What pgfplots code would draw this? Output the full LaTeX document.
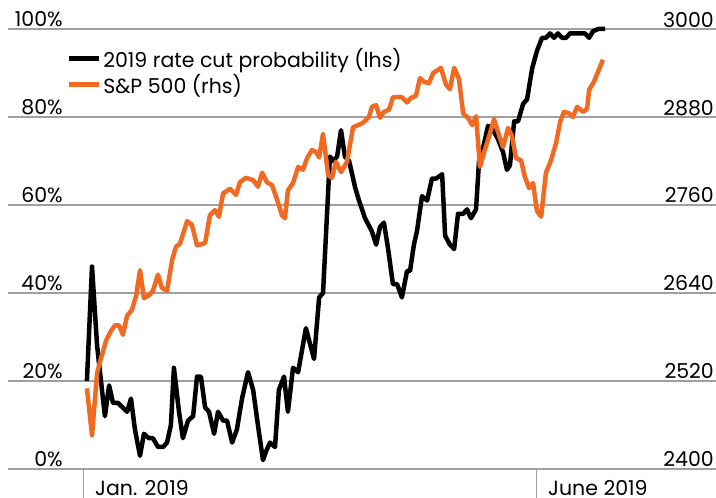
\documentclass[border=0pt]{standalone}
\usepackage{pgfplots}
\pgfplotsset{compat=1.18}
\usepackage{fontspec}
\setmainfont{Poppins}
\definecolor{spor}{HTML}{F26A21}
\definecolor{gridg}{HTML}{A0A0A0}

\begin{document}
\begin{tikzpicture}
\path[use as bounding box] (-8pt,-29pt) rectangle (708pt,469pt);
\begin{axis}[
  at={(0pt,0pt)}, anchor=south west,
  scale only axis, width=708pt, height=440pt,
  xmin=-25, xmax=211, ymin=0, ymax=100,
  axis line style={draw=none},
  ymajorgrids, grid style={gridg, line width=1.2pt},
  ytick={0,20,40,60,80,100}, yticklabels={0\%,20\%,40\%,60\%,80\%,100\%},
  ytick style={draw=none},
  yticklabel style={anchor=base east, inner sep=0pt, xshift=84pt, yshift=2pt, font=\fontsize{20.5}{22}\selectfont},
  xtick={0,151}, xticklabels={Jan. 2019, June 2019},
  xtick pos=bottom, tick align=outside, major tick length=29pt,
  xtick style={gridg, line width=1pt},
  xticklabel style={anchor=north west, inner sep=0pt, xshift=12pt, yshift=18pt, font=\fontsize{20.5}{22}\selectfont},
  clip=false,
  legend style={at={(0.082,0.961)}, anchor=north west, draw=none, fill=none, inner sep=0pt,
    font=\fontsize{20.5}{22}\selectfont, row sep=1pt, nodes={inner sep=2pt}},
  legend cell align=left,
  legend image code/.code={\draw[#1, line width=5pt] (0pt,0pt) -- (30pt,0pt);},
]
\addplot[black, line width=4.5pt, line join=round] coordinates {
(1.3,20) (3,46) (4.7,28) (7.3,12) (8.7,19) (10,15) (11.7,15) (14.7,13) (16,16) (17.3,9)
(19,3) (20.3,8) (22,7) (23.3,7) (25,5) (26.7,5) (28,6) (29.3,10) (30.3,23) (32,13)
(33.3,7) (35,11) (36.7,12) (38,21) (39.3,21) (40.7,14) (42,13) (43.7,8) (45,13) (46.7,11)
(48,11) (49.7,6) (51.3,9) (53,16) (55,22) (56.7,18) (58.3,10) (60,2) (61,4) (62.3,6)
(64,5) (65.3,18) (67,21) (68.3,13) (70,23) (71.7,22) (73,27) (74.3,32) (77,25) (78.7,39)
(80,40) (82.3,71) (83.3,70) (84.7,71) (86,77) (87.3,71) (88.7,70) (90.7,64) (92,61) (94,57)
(96.3,54) (97.7,51) (99,55) (100.3,56) (101.7,50) (103.3,42) (104.7,42) (106.3,39) (108,45) (109,45)
(110.3,51) (111.3,54) (113,62) (114.7,61) (116.3,66) (117.7,66) (119.7,67) (120.7,53) (122.3,51) (123.7,50)
(125,58) (126.7,58) (128,59) (129.3,57) (131,59) (132,70) (133.7,74) (135,78) (136.7,77) (138.3,75)
(140,72) (141.3,68) (142.3,69) (143.7,79) (145,79) (146.7,83) (148,84) (149.7,91) (151.3,95) (153,98)
(154.3,98) (155.7,99) (157,98) (158.3,99) (159.7,98) (161,98) (162.3,99) (164,99) (165.7,99) (167.3,99)
(168.7,98) (170,99.5) (171.7,100) (174,100)
};
\addlegendentry{2019 rate cut probability (lhs)}
\addlegendimage{spor}
\addlegendentry{S\&P 500 (rhs)}
\end{axis}
\begin{axis}[
  at={(0pt,0pt)}, anchor=south west,
  scale only axis, width=708pt, height=440pt,
  xmin=-25, xmax=211, ymin=2400, ymax=3000,
  axis y line*=right, axis x line=none,
  axis line style={draw=none},
  ytick={2400,2520,2640,2760,2880,3000},
  yticklabels={2400,2520,2640,2760,2880,3000},
  ytick style={draw=none},
  yticklabel style={anchor=base east, inner sep=0pt, xshift=-2pt, yshift=2pt, font=\fontsize{20.5}{22}\selectfont},
  clip=false,
]
\addplot[spor, line width=4.5pt, line join=round] coordinates {
(1.3,2510) (3,2446) (4.7,2531) (6,2551) (7.7,2575) (9.3,2588) (10.7,2596) (12,2596) (13.3,2583) (14.7,2609)
(16.3,2617) (17.7,2636) (19,2671) (20.3,2633) (22,2637) (23.3,2643) (25,2665) (26.3,2647) (28,2643) (29.7,2685)
(31,2703) (32.3,2707) (34.7,2738) (36.3,2733) (38,2705) (40.7,2708) (42.3,2746) (44,2753) (45.3,2744) (46.7,2776)
(49,2782) (51,2774) (52.3,2791) (54.3,2797) (56.7,2794) (58.3,2785) (59.7,2804) (61.3,2791) (63,2787) (64.7,2767)
(66.3,2746) (67.3,2742) (68.3,2780) (70,2790) (71.7,2812) (73.3,2808) (74.7,2824) (76.3,2835) (77.7,2832) (78.7,2825)
(80,2857) (81.7,2801) (83,2797) (84.3,2819) (86,2805) (88,2819) (90,2866) (91.7,2869) (93.3,2872) (95.3,2880)
(96.3,2894) (97.7,2896) (99,2879) (100.3,2887) (102,2890) (103.3,2907) (105,2907) (106.3,2907) (108,2900) (109.3,2906)
(111,2909) (112.3,2933) (113.7,2928) (115.3,2926) (116.7,2940) (119.3,2947) (121,2924) (122.3,2918) (123.7,2947) (125.3,2932)
(126.7,2885) (128.3,2879) (129.7,2869) (131,2881) (132.3,2812) (133.7,2832) (135.3,2853) (137,2877) (138.3,2860) (140,2839)
(141.7,2865) (143,2854) (144.3,2824) (146,2821) (147.3,2798) (148.7,2783) (150,2790) (151.3,2752) (152.7,2744) (154.3,2804)
(156,2821) (157.7,2845) (159,2873) (160.3,2887) (162,2885) (163.3,2880) (164.7,2894) (166.7,2887) (168,2891) (168.7,2917)
(170.3,2928) (173.3,2958)
};
\end{axis}
\end{tikzpicture}
\end{document}
